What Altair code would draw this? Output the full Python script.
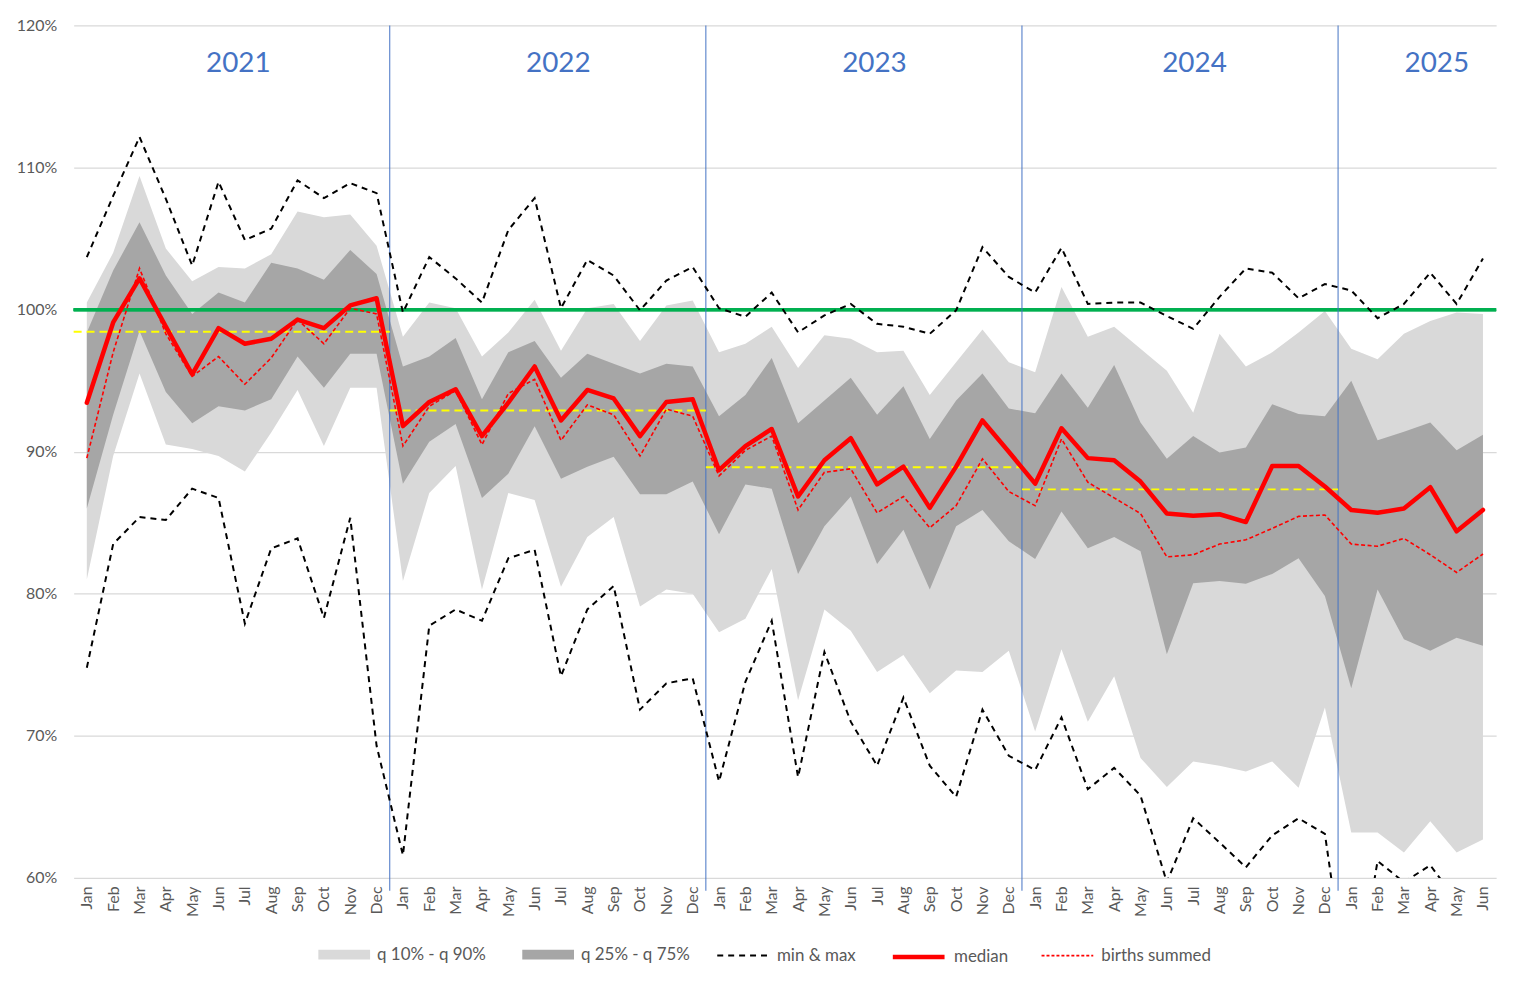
import altair as alt
import pandas as pd

FONT = "Lato"
GREY_TXT = "#595959"

months = ["Jan", "Feb", "Mar", "Apr", "May", "Jun", "Jul", "Aug", "Sep", "Oct", "Nov", "Dec"]
years = [2021, 2022, 2023, 2024, 2025]
months_per_year = [12, 12, 12, 12, 6]

q10 = [81.0, 89.7, 95.5, 90.5, 90.2, 89.7, 88.6, 91.35, 94.35, 90.4, 94.5, 94.5,
       80.9, 87.1, 89.0, 80.3, 87.1, 86.6, 80.5, 84.0, 85.4, 79.1, 80.3, 80.0,
       77.3, 78.25, 81.75, 72.5, 78.9, 77.4, 74.5, 75.7, 73.0, 74.6, 74.5, 76.0,
       70.3, 76.1, 71.0, 74.2, 68.45, 66.4, 68.2, 67.9, 67.5, 68.2, 66.35, 72.0,
       63.2, 63.2, 61.8, 64.0, 61.8, 62.7]
q25 = [86.0, 92.6, 98.5, 94.2, 92.0, 93.2, 92.9, 93.7, 96.7, 94.5, 96.9, 96.9,
       87.75, 90.7, 91.95, 86.75, 88.45, 91.8, 88.1, 88.95, 89.65, 87.0, 87.0, 87.9,
       84.2, 87.7, 87.4, 81.4, 84.75, 86.85, 82.1, 84.5, 80.3, 84.75, 85.9, 83.7,
       82.45, 85.8, 83.2, 84.0, 83.0, 75.75, 80.75, 80.9, 80.7, 81.4, 82.5, 79.85,
       73.35, 80.3, 76.8, 76.0, 76.9, 76.35]
q75 = [98.4, 102.75, 106.15, 102.4, 99.7, 101.2, 100.5, 103.3, 102.9, 102.1, 104.2, 102.5,
       96.0, 96.7, 98.0, 93.7, 97.0, 97.8, 95.2, 96.9, 96.2, 95.5, 96.2, 96.0,
       92.5, 94.0, 96.6, 92.0, 93.6, 95.2, 92.6, 94.6, 90.9, 93.6, 95.5, 93.05,
       92.7, 95.5, 93.1, 96.1, 92.05, 89.5, 91.1, 89.95, 90.3, 93.35, 92.65, 92.5,
       95.0, 90.8, 91.4, 92.05, 90.1, 91.2]
q90 = [100.5, 104.0, 109.4, 104.3, 102.0, 103.0, 102.9, 103.9, 106.9, 106.5, 106.7, 104.5,
       98.1, 100.5, 100.1, 96.7, 98.4, 100.7, 97.1, 100.1, 100.4, 97.8, 100.3, 100.65,
       97.0, 97.6, 98.8, 95.9, 98.2, 97.95, 97.0, 97.1, 94.0, 96.3, 98.6, 96.3,
       95.6, 101.6, 98.1, 98.8, 97.25, 95.7, 92.75, 98.3, 96.0, 97.0, 98.4, 99.9,
       97.25, 96.5, 98.3, 99.2, 99.8, 99.7]
mins = [74.8, 83.5, 85.4, 85.2, 87.4, 86.75, 77.9, 83.2, 83.9, 78.3, 85.35, 69.3,
        61.6, 77.75, 78.9, 78.1, 82.5, 83.1, 74.2, 78.9, 80.55, 71.85, 73.7, 74.05,
        66.8, 73.8, 78.1, 67.1, 75.9, 71.0, 67.9, 72.7, 67.9, 65.7, 71.85, 68.6,
        67.6, 71.3, 66.25, 67.75, 65.8, 59.7, 64.2, 62.5, 60.75, 63.0, 64.2, 63.1,
        50.2, 61.2, 59.7, 60.9, 58.4, 57.0]
maxs = [103.7, 108.0, 112.15, 107.8, 103.1, 109.0, 104.9, 105.7, 109.1, 107.85, 108.9, 108.2,
        99.8, 103.7, 102.2, 100.5, 105.6, 107.85, 100.1, 103.5, 102.4, 99.95, 102.05, 103.0,
        100.1, 99.5, 101.2, 98.4, 99.6, 100.4, 99.0, 98.8, 98.3, 99.95, 104.4, 102.3,
        101.2, 104.35, 100.4, 100.5, 100.5, 99.55, 98.65, 100.9, 102.9, 102.6, 100.8, 101.8,
        101.35, 99.4, 100.4, 102.6, 100.4, 103.6]
median = [93.45, 99.1, 102.2, 98.8, 95.45, 98.7, 97.6, 97.95, 99.3, 98.7, 100.3, 100.8,
          91.8, 93.5, 94.4, 91.1, 93.45, 96.0, 92.2, 94.35, 93.75, 91.1, 93.5, 93.7,
          88.7, 90.4, 91.6, 86.85, 89.4, 90.95, 87.7, 88.95, 86.05, 88.95, 92.2, 90.0,
          87.75, 91.65, 89.55, 89.4, 87.9, 85.65, 85.5, 85.6, 85.05, 89.0, 89.0, 87.55,
          85.9, 85.7, 86.0, 87.5, 84.4, 85.9]
births = [89.55, 97.0, 102.9, 98.3, 95.3, 96.7, 94.75, 96.6, 99.3, 97.6, 100.1, 99.7,
          90.4, 93.2, 94.3, 90.5, 94.1, 95.1, 90.8, 93.3, 92.6, 89.7, 93.0, 92.5,
          88.3, 90.1, 91.1, 85.9, 88.55, 88.8, 85.7, 86.85, 84.65, 86.2, 89.5, 87.2,
          86.2, 90.9, 87.85, 86.75, 85.65, 82.6, 82.75, 83.5, 83.8, 84.6, 85.45, 85.55,
          83.5, 83.35, 83.9, 82.75, 81.5, 82.8]
year_avg = [98.45, 92.9, 88.9, 87.35]   # yellow dashed lines, 2021-2024

y_ticks = [60, 70, 80, 90, 100, 110, 120]
band_labels = ["q 10% - q 90%", "q 25% - q 75%"]
band_colors = ["#D9D9D9", "#A6A6A6"]
minmax_label = "min & max"
median_label = "median"
births_label = "births summed"

# placement of the year titles (offset from the centre of each year, in months)
year_label_shift = [0.25, 0.4, 0.4, 0.55, 0.75]

n = len(median)
df = pd.DataFrame({"idx": list(range(n)), "q10": q10, "q25": q25, "q75": q75, "q90": q90,
                   "mn": mins, "mx": maxs, "median": median, "births": births})

starts = [sum(months_per_year[:i]) for i in range(len(years))]
df_years = pd.DataFrame({
    "year": [str(y) for y in years],
    "pos": [s + (m - 1) / 2 + d for s, m, d in zip(starts, months_per_year, year_label_shift)],
})
df_sep = pd.DataFrame({"b": [s - 0.5 for s in starts[1:]]})
df_avg = pd.DataFrame({
    "x0": [starts[i] - 0.5 for i in range(len(year_avg))],
    "x1": [starts[i] + months_per_year[i] - 0.5 for i in range(len(year_avg))],
    "v": year_avg,
})

month_js = "[" + ",".join("'%s'" % m for m in months) + "]"

xscale = alt.Scale(domain=[-0.5, n - 0.5], nice=False, zero=False)
yscale = alt.Scale(domain=[60, 120], nice=False, zero=False)
xaxis = alt.Axis(values=list(range(n)), labelExpr=month_js + "[datum.value % 12]",
                 labelAngle=270, labelAlign="right", labelBaseline="middle",
                 labelPadding=8, labelFontSize=16, labelColor=GREY_TXT, labelFont=FONT,
                 labelOverlap=False, labelFlush=False, labelBound=False,
                 grid=False, ticks=False, tickSize=0, domain=False, title=None)
yaxis = alt.Axis(values=y_ticks, labelExpr="datum.value + '%'", labelPadding=17,
                 labelFontSize=16, labelColor=GREY_TXT, labelFont=FONT,
                 grid=True, gridColor="#D9D9D9", gridWidth=1.3,
                 ticks=False, tickSize=0, domain=False, title=None)


def X(field):
    return alt.X(field, type="quantitative", scale=xscale, axis=xaxis, title=None)


def Y(field):
    return alt.Y(field, type="quantitative", scale=yscale, axis=yaxis, title=None)


LEG_Y = 908
SYM = 2704  # 52 px wide symbols


def legend(x, **kw):
    return alt.Legend(orient="none", legendX=x, legendY=LEG_Y, direction="horizontal",
                      title=None, symbolSize=SYM, labelFontSize=17, labelColor=GREY_TXT,
                      labelFont=FONT, labelOffset=7, labelLimit=400, columnPadding=36,
                      padding=0, **kw)


band_leg = legend(246, symbolType="M-1,-0.19L1,-0.19L1,0.19L-1,0.19Z", symbolStrokeWidth=0)

FILL = alt.Fill("series:N", scale=alt.Scale(domain=band_labels, range=band_colors), legend=band_leg)
DASH = alt.StrokeDash("series:N", scale=alt.Scale(domain=[minmax_label], range=[[6, 5]]),
                      legend=legend(646, symbolType="stroke", symbolStrokeColor="#000000",
                                    symbolStrokeWidth=2))
WIDTH = alt.StrokeWidth("series:N", scale=alt.Scale(domain=[median_label], range=[4.5, 4.5]),
                        legend=legend(821, symbolType="stroke", symbolStrokeColor="#FF0000"))
STROKE = alt.Stroke("series:N", scale=alt.Scale(domain=[births_label], range=["#FF0000"]),
                    legend=legend(972, symbolType="stroke", symbolStrokeWidth=1.8, symbolDash=[3, 2]))


def tag(label):
    return "'" + label.replace("'", "\\'") + "'"


base = alt.Chart(df)

light = base.mark_area(opacity=1).transform_calculate(series=tag(band_labels[0])).encode(
    x=X("idx"), y=Y("q10"), y2="q90", fill=FILL)
dark = base.mark_area(opacity=1).transform_calculate(series=tag(band_labels[1])).encode(
    x=X("idx"), y=Y("q25"), y2="q75", fill=FILL)
green = alt.Chart(df_sep).mark_rule(color="#00B050", strokeWidth=3).encode(y=alt.datum(100))
seps = alt.Chart(df_sep).mark_rule(color="#4472C4", strokeWidth=1).encode(
    x=X("b"), y=alt.datum(120), y2=alt.datum(59.1))
avg = alt.Chart(df_avg).mark_rule(color="#FFFF00", strokeWidth=2, strokeDash=[8, 5]).encode(
    x=X("x0"), x2="x1", y=Y("v"))
mx_line = base.mark_line(strokeWidth=2, color="#000000", clip=True).transform_calculate(
    series=tag(minmax_label)).encode(x=X("idx"), y=Y("mx"), strokeDash=DASH)
mn_line = base.mark_line(strokeWidth=2, color="#000000", clip=True).transform_calculate(
    series=tag(minmax_label)).encode(x=X("idx"), y=Y("mn"), strokeDash=DASH)
bir_line = base.mark_line(strokeWidth=1.6, strokeDash=[4, 2.5]).transform_calculate(
    series=tag(births_label)).encode(x=X("idx"), y=Y("births"), stroke=STROKE)
med_line = base.mark_line(color="#FF0000", strokeCap="round", strokeJoin="round").transform_calculate(
    series=tag(median_label)).encode(x=X("idx"), y=Y("median"), strokeWidth=WIDTH)
year_txt = alt.Chart(df_years).mark_text(font=FONT, fontSize=28, color="#4472C4",
                                         baseline="middle", align="center").encode(
    x=X("pos"), y=alt.value(39), text="year:N")

chart = alt.layer(light, dark, green, seps, avg, mx_line, mn_line, bir_line, med_line, year_txt).properties(
    width=1430, height=857,
    autosize=alt.AutoSizeParams(type="none"),
    padding={"left": 66, "top": 15, "right": 24, "bottom": 100},
    background="white",
).configure_view(stroke=None)

chart.save("out.html", embed_options={"renderer": "svg", "actions": False})
